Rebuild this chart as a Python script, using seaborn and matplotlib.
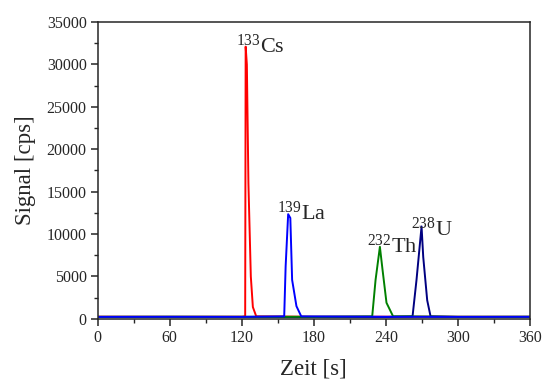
import matplotlib
matplotlib.use('Agg')
import matplotlib.pyplot as plt
from matplotlib.ticker import MultipleLocator
import pandas as pd
import seaborn as sns

# peak traces (time in s, signal in cps)
cs_time = [0, 60, 120, 122.8, 123.2, 124.2, 125.5, 127.5, 129.2, 132, 180, 240, 300, 360]
cs_signal = [260, 250, 260, 300, 32100, 30000, 16000, 5000, 1400, 300, 250, 260, 250, 250]

la_time = [0, 60, 120, 155.3, 156.5, 158.6, 160.4, 161.9, 165.5, 169.5, 240, 300, 360]
la_signal = [240, 250, 240, 300, 6200, 12350, 11900, 4600, 1500, 300, 250, 240, 250]

th_time = [0, 60, 120, 180, 228.6, 231.4, 235.0, 237.2, 240.5, 246, 300, 360]
th_signal = [250, 260, 250, 250, 300, 4600, 8500, 5800, 1900, 300, 250, 260]

u_time = [0, 60, 120, 180, 240, 262.2, 265.5, 269.7, 271.1, 274.4, 277.2, 300, 360]
u_signal = [220, 220, 220, 220, 220, 300, 4600, 10900, 7300, 2200, 300, 230, 220]

series_names = ['Cs', 'U', 'Th', 'La']
series_colors = ['#ff0000', '#000080', '#008000', '#0000ff']

peak_labels = [r'$^{133}$Cs', r'$^{139}$La', r'$^{232}$Th', r'$^{238}$U']
label_time = [115, 149.2, 224.2, 260.8]
label_signal = [31400, 11650, 7750, 9750]

sns.set_style("ticks")
plt.rcParams['font.family'] = ['Liberation Serif', 'DejaVu Serif']
plt.rcParams['mathtext.fontset'] = 'custom'
plt.rcParams['mathtext.rm'] = 'Liberation Serif'
plt.rcParams['mathtext.it'] = 'Liberation Serif:italic'

frames = {
    'Cs': pd.DataFrame({'t': cs_time, 's': cs_signal}),
    'La': pd.DataFrame({'t': la_time, 's': la_signal}),
    'Th': pd.DataFrame({'t': th_time, 's': th_signal}),
    'U': pd.DataFrame({'t': u_time, 's': u_signal}),
}

fig = plt.figure(figsize=(5.43, 3.81), dpi=100)
ax = fig.add_axes([0.180, 0.163, 0.796, 0.779])

for name, color in zip(series_names, series_colors):
    sns.lineplot(data=frames[name], x='t', y='s', color=color, linewidth=1.4,
                 estimator=None, sort=False, ax=ax)

for txt, tx, ty in zip(peak_labels, label_time, label_signal):
    ax.text(tx, ty, txt, fontsize=16, ha='left', va='baseline')

ax.set_xlim(0, 360)
ax.set_ylim(0, 35000)
ax.xaxis.set_major_locator(MultipleLocator(60))
ax.xaxis.set_minor_locator(MultipleLocator(30))
ax.yaxis.set_major_locator(MultipleLocator(5000))
ax.yaxis.set_minor_locator(MultipleLocator(2500))
ax.tick_params(which='major', direction='out', length=5, width=1.1, labelsize=11.5, pad=3)
ax.tick_params(which='minor', direction='out', length=3, width=1.0)
for sp in ax.spines.values():
    sp.set_linewidth(1.1)
    sp.set_visible(True)

ax.set_xlabel('Zeit [s]', fontsize=16.5, labelpad=9)
ax.set_ylabel('Signal [cps]', fontsize=16.5, labelpad=8)

fig.savefig('out.png', dpi=100)
